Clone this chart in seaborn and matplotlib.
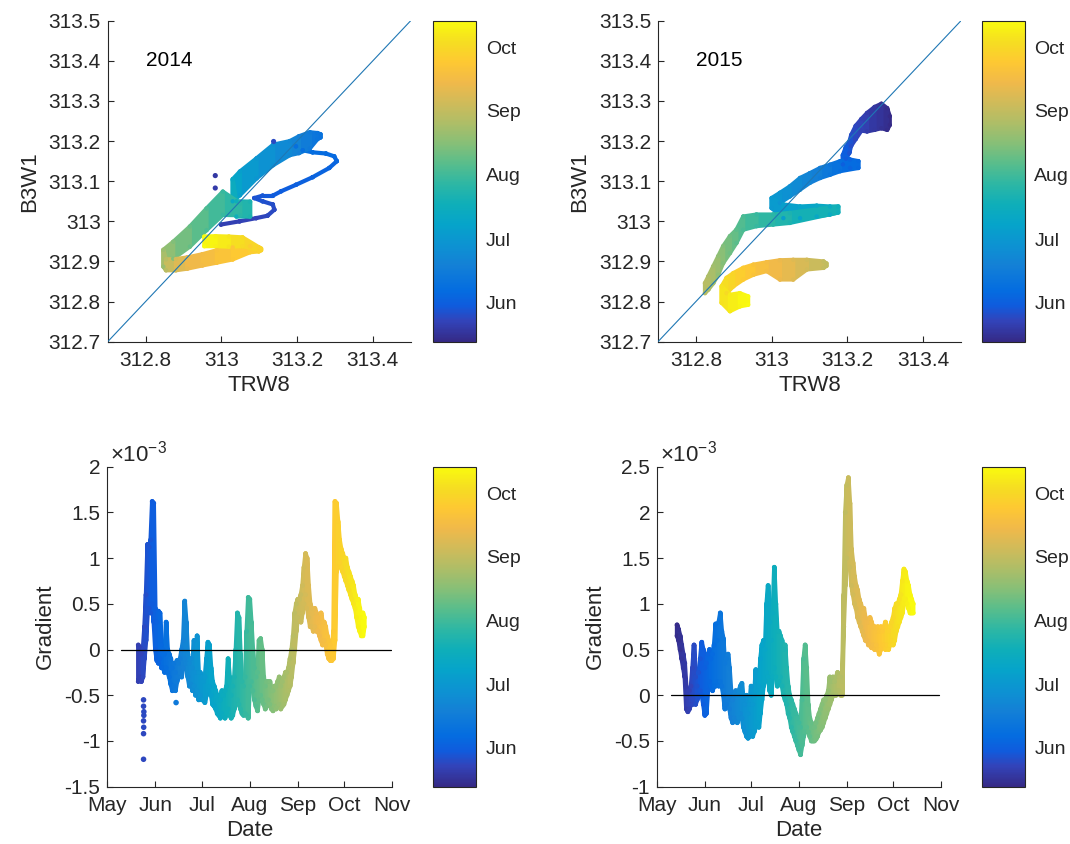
import numpy as np
import pandas as pd
import matplotlib
matplotlib.use("Agg")
import matplotlib.pyplot as plt
import matplotlib.dates as mdates
import seaborn as sns
from matplotlib.colors import LinearSegmentedColormap, Normalize
from matplotlib.collections import PolyCollection
from matplotlib.cm import ScalarMappable
from matplotlib.ticker import FuncFormatter, FixedLocator

# ------------------------------------------------------------------ data
# days are counted from 1 May of each year
CB_FIRST_DAY = 12      # colour scale start (13 May)
CB_LAST_DAY = 166      # colour scale end (14 Oct)
cbar_months = ["Jun", "Jul", "Aug", "Sep", "Oct"]
date_months = ["May", "Jun", "Jul", "Aug", "Sep", "Oct", "Nov"]

# ---- 2014 scatter TRW8 vs B3W1 (time ordered, B3W1 spread lo..hi)
s14_day = [20, 21, 22, 23, 24, 25, 26, 27, 28, 29, 30, 31, 32, 33, 34, 35, 36, 37, 38, 39,
           40, 41, 44, 48, 52, 56, 60, 66, 72,
           78, 82, 86,
           90, 95, 100, 106, 112,
           120, 128, 134, 138, 142, 145, 148, 150, 151,
           154, 158, 162, 166]
s14_trw8 = [312.999, 313.048, 313.092, 313.122, 313.140, 313.136, 313.109, 313.087, 313.109, 313.136,
            313.158, 313.197, 313.241, 313.285, 313.305, 313.298, 313.276, 313.241, 313.215, 313.197,
            313.262, 313.254, 313.234, 313.205, 313.181, 313.137, 313.093, 313.049, 313.030,
            313.040, 313.076, 313.050,
            313.004, 312.961, 312.917, 312.873, 312.847,
            312.854, 312.880, 312.910, 312.950, 312.988, 313.030, 313.076, 313.099, 313.105,
            313.056, 313.020, 312.985, 312.955]
s14_b3w1_lo = [312.992, 313.000, 313.008, 313.014, 313.029, 313.042, 313.050, 313.058, 313.064, 313.064,
               313.075, 313.091, 313.110, 313.133, 313.150, 313.162, 313.169, 313.172, 313.177, 313.187,
               313.209, 313.205, 313.182, 313.170, 313.165, 313.140, 313.107, 313.065, 313.050,
               313.012, 313.012, 313.015,
               313.016, 312.978, 312.937, 312.907, 312.887,
               312.878, 312.878, 312.882, 312.890, 312.897, 312.905, 312.923, 312.925, 312.928,
               312.938, 312.937, 312.938, 312.938]
s14_b3w1_hi = [312.992, 313.000, 313.008, 313.014, 313.029, 313.042, 313.050, 313.058, 313.064, 313.064,
               313.075, 313.091, 313.110, 313.133, 313.150, 313.162, 313.169, 313.172, 313.177, 313.187,
               313.217, 313.220, 313.222, 313.212, 313.200, 313.191, 313.157, 313.124, 313.105,
               313.050, 313.049, 313.045,
               313.074, 313.032, 312.987, 312.949, 312.929,
               312.905, 312.906, 312.910, 312.918, 312.928, 312.935, 312.938, 312.935, 312.932,
               312.960, 312.962, 312.963, 312.962]
s14_out_day = [18, 19, 24]
s14_out_trw8 = [312.984, 312.984, 313.138]
s14_out_b3w1 = [313.114, 313.083, 313.199]

# ---- 2015 scatter TRW8 vs B3W1 (nan = gap in record)
s15_day = [12, 13, 15, 17, 19, 21, 23, 25, 27, 29, 31,
           33, 35, 38,
           42, 46, 50, 53, 56, 59, 62,
           65, 68, 71, 74, 77,
           82, 86, 90, 94,
           98, 102, 106, 110, 114, 117, 120,
           121.5,
           122.5, 123, 127, 131, 135, 139, 143, 147, 151, 154, 157, 160, 163, 166]
s15_trw8 = [313.312, 313.305, 313.290, 313.272, 313.252, 313.237, 313.222, 313.210, 313.205, 313.196, 313.188,
            313.207, 313.229, 313.181,
            313.154, 313.128, 313.101, 313.075, 313.048, 313.022, 313.000,
            313.031, 313.075, 313.119, 313.154, 313.176,
            313.048, 313.004, 312.960, 312.925,
            312.907, 312.890, 312.872, 312.859, 312.846, 312.833, 312.824,
            np.nan,
            313.145, 313.137, 313.093, 313.057, 313.022, 312.987, 312.952, 312.925, 312.899, 312.881, 312.868, 312.890, 312.916, 312.938]
s15_b3w1_lo = [313.240, 313.228, 313.232, 313.228, 313.224, 313.226, 313.205, 313.188, 313.170, 313.156, 313.142,
               313.133, 313.133, 313.125,
               313.116, 313.108, 313.096, 313.079, 313.062, 313.046, 313.033,
               313.008, 313.008, 313.012, 313.017, 313.022,
               312.996, 312.992, 312.988, 312.979,
               312.946, 312.921, 312.896, 312.867, 312.846, 312.830, 312.821,
               np.nan,
               312.889, 312.884, 312.880, 312.855, 312.855, 312.876, 312.867, 312.855, 312.838, 312.821, 312.797, 312.776, 312.788, 312.792]
s15_b3w1_hi = [313.262, 313.282, 313.293, 313.285, 313.270, 313.255, 313.238, 313.215, 313.198, 313.185, 313.165,
               313.154, 313.150, 313.150,
               313.141, 313.133, 313.120, 313.108, 313.087, 313.071, 313.058,
               313.042, 313.037, 313.039, 313.037, 313.037,
               313.021, 313.017, 313.017, 313.012,
               312.979, 312.963, 312.938, 312.913, 312.888, 312.863, 312.846,
               np.nan,
               312.895, 312.900, 312.904, 312.904, 312.903, 312.898, 312.892, 312.884, 312.871, 312.859, 312.838, 312.817, 312.821, 312.813]

# ---- 2014 gradient (x 1e-3): daily low / high of the point cloud
g14_day = list(range(20, 167))
g14_lo = [-0.35, -0.30, -0.35, -0.30, -0.10, 0.10, 0.40, 0.45, 0.40, 0.50, 0.30,            # 20-30
          0.00, -0.12, -0.15, -0.10, -0.20, -0.20, -0.25, -0.20, -0.25, -0.30,              # 31-40
          -0.38, -0.45, -0.40, -0.45, -0.35, -0.30, -0.25, -0.30, -0.20, -0.10,             # 41-50
          -0.15, -0.30, -0.40, -0.38, -0.45, -0.40, -0.50, -0.45, -0.55, -0.50,             # 51-60
          -0.55, -0.55, -0.58, -0.50, -0.45, -0.40, -0.50, -0.60, -0.62, -0.65,             # 61-70
          -0.70, -0.72, -0.75, -0.70, -0.72, -0.75, -0.70, -0.65, -0.72, -0.75,             # 71-80
          -0.72, -0.65, -0.60, -0.55, -0.60, -0.65, -0.70, -0.72, -0.70, -0.72,             # 81-90
          -0.75, -0.40, -0.35, -0.45, -0.55, -0.62, -0.67, -0.55, -0.50, -0.55,             # 91-100
          -0.60, -0.65, -0.62, -0.55, -0.60, -0.65, -0.67, -0.62, -0.65, -0.62,             # 101-110
          -0.60, -0.65, -0.62, -0.60, -0.55, -0.50, -0.45, -0.40, -0.30, -0.15,             # 111-120
          0.00, 0.20, 0.35, 0.40, 0.30, 0.40, 0.50, 0.60, 0.45, 0.35,                       # 121-130
          0.25, 0.25, 0.20, 0.25, 0.20, 0.20, 0.15, 0.10, 0.05, 0.10,                       # 131-140
          0.05, -0.05, -0.10, -0.12, -0.12, -0.10, 0.10, 0.85, 0.90, 0.95,                  # 141-150
          0.90, 0.85, 0.80, 0.75, 0.70, 0.65, 0.60, 0.55, 0.50, 0.45,                       # 151-160
          0.35, 0.25, 0.20, 0.15, 0.15, 0.25]                                               # 161-166
g14_hi = [0.05, 0.02, -0.05, 0.00, 0.25, 0.60, 1.15, 1.12, 1.20, 1.62, 1.60,
          0.45, 0.30, 0.42, 0.40, 0.05, 0.00, -0.05, 0.30, 0.00, -0.05,
          -0.10, -0.20, -0.15, -0.25, -0.12, -0.15, -0.10, 0.00, 0.10, 0.53,
          0.30, -0.05, -0.15, -0.10, -0.20, 0.10, -0.25, 0.15, -0.25, -0.25,
          -0.30, -0.35, -0.30, -0.10, 0.08, 0.05, -0.20, -0.35, -0.40, -0.45,
          -0.50, -0.55, -0.55, -0.45, -0.50, -0.45, -0.40, -0.10, -0.30, -0.50,
          -0.40, -0.30, 0.00, 0.40, 0.35, -0.05, -0.35, -0.40, -0.30, 0.20,
          0.57, 0.55, 0.30, 0.00, -0.20, -0.30, -0.25, 0.10, 0.12, 0.00,
          -0.30, -0.40, -0.35, -0.35, -0.35, -0.45, -0.45, -0.40, -0.40, -0.35,
          -0.30, -0.40, -0.35, -0.30, -0.25, -0.25, -0.20, -0.10, 0.00, 0.15,
          0.40, 0.50, 0.55, 0.55, 0.60, 0.70, 0.90, 1.05, 1.00, 0.70,
          0.50, 0.45, 0.40, 0.45, 0.40, 0.35, 0.30, 0.40, 0.30, 0.30,
          0.25, 0.15, 0.10, 0.05, 0.00, 0.20, 1.62, 1.60, 1.40, 1.20,
          1.10, 1.05, 1.00, 1.00, 0.90, 0.85, 0.80, 0.75, 0.70, 0.60,
          0.55, 0.55, 0.45, 0.35, 0.40, 0.35]
g14_out_day = [23.4, 23.4, 23.6, 23.6, 23.4, 23.5, 23.4, 23.4, 44.4]
g14_out_val = [-0.55, -0.62, -0.68, -0.72, -0.78, -0.85, -0.92, -1.20, -0.58]

# ---- 2015 gradient (x 1e-3)
g15_day = list(range(13, 167))
g15_lo = [0.65, 0.60, 0.50, 0.40, 0.30, 0.20, -0.15,                                        # 13-19
          -0.18, -0.15, -0.10, -0.10, -0.05, -0.10, -0.05, 0.00, 0.05, 0.00,                # 20-29
          -0.10, -0.22, -0.20, 0.05, 0.15, 0.10, 0.05, 0.10, 0.10, 0.15,                    # 30-39
          0.10, 0.15, 0.10, 0.00, -0.15, -0.10, -0.05, -0.15, -0.25, -0.30,                 # 40-49
          -0.25, -0.28, -0.30, -0.25, -0.20, -0.25, -0.35, -0.40, -0.45, -0.47,             # 50-59
          -0.45, -0.40, -0.45, -0.40, -0.35, -0.30, -0.35, -0.20, -0.05, 0.10,              # 60-69
          0.15, 0.25, 0.20, 0.05, 0.00, 0.20, 0.30, 0.20, 0.10, 0.15,                       # 70-79
          0.20, 0.10, 0.00, -0.05, -0.10, -0.20, -0.25, -0.35, -0.40, -0.45,                # 80-89
          -0.50, -0.55, -0.60, -0.65, -0.55, -0.45, -0.40, -0.35, -0.40, -0.45,             # 90-99
          -0.50, -0.50, -0.50, -0.48, -0.45, -0.40, -0.38, -0.35, -0.30, -0.25,             # 100-109
          -0.20, -0.15, -0.10, -0.05, 0.00, 0.00, 0.00, 0.05, 0.05, 0.00,                   # 110-119
          0.00, 0.75, 1.20, 1.50, 1.60, 1.40, 1.20, 1.10, 1.00, 0.95,                       # 120-129
          0.85, 0.80, 0.75, 0.70, 0.65, 0.60, 0.60, 0.55, 0.55, 0.52,                       # 130-139
          0.55, 0.50, 0.55, 0.50, 0.45, 0.50, 0.55, 0.55, 0.50, 0.55,                       # 140-149
          0.50, 0.55, 0.60, 0.55, 0.60, 0.70, 0.75, 0.80, 0.85, 0.90,                       # 150-159
          1.00, 1.05, 1.00, 0.95, 0.90, 0.90, 0.90]                                         # 160-166
g15_hi = [0.77, 0.72, 0.65, 0.55, 0.45, 0.35, 0.08,
          0.05, 0.05, 0.10, 0.30, 0.55, 0.20, 0.10, 0.25, 0.40, 0.58,
          0.50, 0.30, 0.35, 0.45, 0.50, 0.40, 0.45, 0.55, 0.78, 0.60,
          0.80, 0.90, 0.70, 0.62, 0.35, 0.40, 0.45, 0.30, 0.05, -0.05,
          0.00, 0.05, 0.00, 0.05, 0.10, 0.13, -0.05, -0.10, 0.00, -0.20,
          -0.10, 0.10, -0.10, 0.00, 0.28, 0.05, 0.10, 0.40, 0.55, 0.60,
          0.50, 1.00, 1.20, 0.80, 0.60, 0.90, 1.40, 1.00, 0.70, 0.70,
          0.65, 0.60, 0.50, 0.55, 0.30, 0.10, 0.00, -0.05, -0.10, -0.15,
          -0.20, -0.25, -0.30, -0.35, -0.05, 0.40, 0.55, 0.30, -0.10, -0.25,
          -0.30, -0.35, -0.35, -0.30, -0.25, -0.20, -0.15, -0.10, -0.05, -0.05,
          0.00, 0.05, 0.20, 0.15, 0.20, 0.15, 0.20, 0.25, 0.20, 0.20,
          0.15, 1.10, 2.00, 2.30, 2.38, 2.10, 1.60, 1.45, 1.30, 1.20,
          1.15, 1.05, 1.00, 0.95, 0.95, 0.85, 0.80, 0.80, 0.85, 0.80,
          0.75, 0.75, 0.70, 0.75, 0.70, 0.75, 0.70, 0.75, 0.80, 0.75,
          0.70, 0.75, 0.80, 0.85, 0.95, 1.00, 1.00, 1.05, 1.10, 1.25,
          1.38, 1.35, 1.25, 1.20, 1.10, 1.05, 1.00]

# ------------------------------------------------------------------ style
sns.set_theme(style="ticks")
plt.rcParams["font.family"] = ["Liberation Sans", "DejaVu Sans"]
plt.rcParams["axes.unicode_minus"] = False
plt.rcParams["mathtext.fontset"] = "custom"
plt.rcParams["mathtext.rm"] = "Liberation Sans"
TXT = "#262626"

parula_pts = [
    (0.2081, 0.1663, 0.5292), (0.1959, 0.2645, 0.7279), (0.0591, 0.3598, 0.8683),
    (0.0165, 0.4266, 0.8786), (0.0779, 0.5040, 0.8384), (0.0488, 0.5772, 0.8228),
    (0.0231, 0.6418, 0.7913), (0.0590, 0.6838, 0.7254), (0.1801, 0.7177, 0.6424),
    (0.3482, 0.7424, 0.5473), (0.5300, 0.7491, 0.4661), (0.6834, 0.7435, 0.4044),
    (0.8185, 0.7327, 0.3498), (0.9450, 0.7261, 0.2886), (0.9955, 0.7861, 0.1967),
    (0.9626, 0.8705, 0.1309), (0.9763, 0.9831, 0.0538)]
parula_pos = [0, 4, 7, 10, 15, 19, 23, 27, 31, 35, 39, 43, 47, 51, 55, 59, 63]
parula = LinearSegmentedColormap.from_list(
    "parula", [(p / 63.0, c) for p, c in zip(parula_pos, parula_pts)])

W, H = 1070, 844
fig = plt.figure(figsize=(W / 100, H / 100), dpi=100)


def box(l, t, r, b):
    return [l / W, 1 - b / H, (r - l) / W, (b - t) / H]


def to_num(year, days):
    base = mdates.date2num(pd.Timestamp(f"{year}-05-01"))
    return base + np.asarray(days, dtype=float)


def draw_band(ax, x, lo, hi, c, norm, lw, s):
    x, lo, hi, c = (np.asarray(a, dtype=float) for a in (x, lo, hi, c))
    polys, cols = [], []
    for i in range(len(x) - 1):
        seg = [x[i], x[i + 1], lo[i], lo[i + 1], hi[i], hi[i + 1]]
        if np.isnan(seg).any():
            continue
        polys.append([(x[i], lo[i]), (x[i + 1], lo[i + 1]),
                      (x[i + 1], hi[i + 1]), (x[i], hi[i])])
        cols.append(parula(norm(0.5 * (c[i] + c[i + 1]))))
    pc = PolyCollection(polys, facecolors=cols, edgecolors=cols,
                        linewidths=lw, joinstyle="round", capstyle="round")
    ax.add_collection(pc)
    df = pd.DataFrame({"x": np.r_[x, x], "y": np.r_[lo, hi], "c": np.r_[c, c]}).dropna()
    sns.scatterplot(data=df, x="x", y="y", hue="c", palette=parula, hue_norm=norm,
                    s=s, linewidth=0, legend=False, ax=ax, zorder=3)


def style_axes(ax):
    for sp in ("top", "right"):
        ax.spines[sp].set_visible(False)
    for sp in ("left", "bottom"):
        ax.spines[sp].set_color(TXT)
        ax.spines[sp].set_linewidth(0.8)
    ax.tick_params(direction="in", length=4, width=0.8, color=TXT,
                   labelcolor=TXT, labelsize=15)
    ax.tick_params(axis="x", pad=7)
    ax.tick_params(axis="y", pad=5)


def add_cbar(year, rect, norm):
    cax = fig.add_axes(rect)
    cb = fig.colorbar(ScalarMappable(norm=norm, cmap=parula), cax=cax)
    ticks = [mdates.date2num(pd.Timestamp(f"{year}-{m}-01")) for m in range(6, 11)]
    cb.set_ticks(ticks)
    cb.set_ticklabels(cbar_months)
    cax.tick_params(direction="in", length=4, width=0.8, color=TXT,
                    labelcolor=TXT, labelsize=14, pad=7)
    cb.outline.set_linewidth(0.8)
    cb.outline.set_edgecolor(TXT)


fmt_g = FuncFormatter(lambda v, p: f"{round(v, 6):g}")

# ------------------------------------------------------------------ top panels
tops = [
    (2014, box(107.7, 20.7, 410.7, 341.7), box(433.5, 20.7, 476, 341.7),
     s14_day, s14_trw8, s14_b3w1_lo, s14_b3w1_hi),
    (2015, box(658, 20.7, 961, 341.7), box(982, 20.7, 1024.5, 341.7),
     s15_day, s15_trw8, s15_b3w1_lo, s15_b3w1_hi),
]
for year, rect, crect, day, trw, lo, hi in tops:
    norm = Normalize(to_num(year, CB_FIRST_DAY), to_num(year, CB_LAST_DAY))
    ax = fig.add_axes(rect)
    style_axes(ax)
    draw_band(ax, trw, lo, hi, to_num(year, day), norm, lw=3.0, s=10)
    if year == 2014:
        sns.scatterplot(x=s14_out_trw8, y=s14_out_b3w1, hue=to_num(year, s14_out_day),
                        palette=parula, hue_norm=norm, s=14, linewidth=0,
                        legend=False, ax=ax, zorder=3)
    ax.plot([312.7, 313.5], [312.7, 313.5], color="#1f77b4", lw=0.8, zorder=4)
    ax.set_xlim(312.7, 313.5)
    ax.set_ylim(312.7, 313.5)
    ax.xaxis.set_major_locator(FixedLocator([312.8, 313.0, 313.2, 313.4]))
    ax.yaxis.set_major_locator(FixedLocator(np.round(np.arange(312.7, 313.51, 0.1), 1)))
    ax.xaxis.set_major_formatter(fmt_g)
    ax.yaxis.set_major_formatter(fmt_g)
    ax.set_xlabel("TRW8", fontsize=16, color=TXT, labelpad=3)
    ax.set_ylabel("B3W1", fontsize=16, color=TXT, labelpad=6)
    ax.text(312.8, 313.4, str(year), fontsize=15, color="black", ha="left", va="center")
    add_cbar(year, crect, norm)

# ------------------------------------------------------------------ bottom panels
bottoms = [
    (2014, box(107.3, 466.7, 392.3, 786.7), box(433.5, 466.7, 476, 786.7),
     g14_day, g14_lo, g14_hi, (-1.5, 2.0)),
    (2015, box(657, 466.7, 941, 786.7), box(982, 466.7, 1024.5, 786.7),
     g15_day, g15_lo, g15_hi, (-1.0, 2.5)),
]
for year, rect, crect, day, lo, hi, ylim in bottoms:
    norm = Normalize(to_num(year, CB_FIRST_DAY), to_num(year, CB_LAST_DAY))
    ax = fig.add_axes(rect)
    style_axes(ax)
    xd = to_num(year, day)
    draw_band(ax, xd, lo, hi, xd, norm, lw=3.2, s=12)
    if year == 2014:
        od = to_num(year, g14_out_day)
        sns.scatterplot(x=od, y=g14_out_val, hue=od, palette=parula, hue_norm=norm,
                        s=16, linewidth=0, legend=False, ax=ax, zorder=3)
    ax.plot(to_num(year, [9, 183]), [0, 0], color="black", lw=0.9, zorder=4)
    month_ticks = [mdates.date2num(pd.Timestamp(f"{year}-{m}-01")) for m in range(5, 12)]
    ax.set_xlim(month_ticks[0], month_ticks[-1])
    ax.set_ylim(*ylim)
    ax.set_xticks(month_ticks)
    ax.set_xticklabels(date_months)
    ax.yaxis.set_major_locator(FixedLocator(np.arange(ylim[0], ylim[1] + 0.01, 0.5)))
    ax.yaxis.set_major_formatter(fmt_g)
    ax.set_xlabel("Date", fontsize=16, color=TXT, labelpad=3)
    ax.set_ylabel("Gradient", fontsize=16, color=TXT, labelpad=6)
    ax.text(0.01, 1.015, r"$\times$10$^{\mathregular{-3}}$", transform=ax.transAxes,
            fontsize=16, color=TXT, ha="left", va="baseline")
    add_cbar(year, crect, norm)

fig.savefig("out.png", dpi=100, facecolor="white")
